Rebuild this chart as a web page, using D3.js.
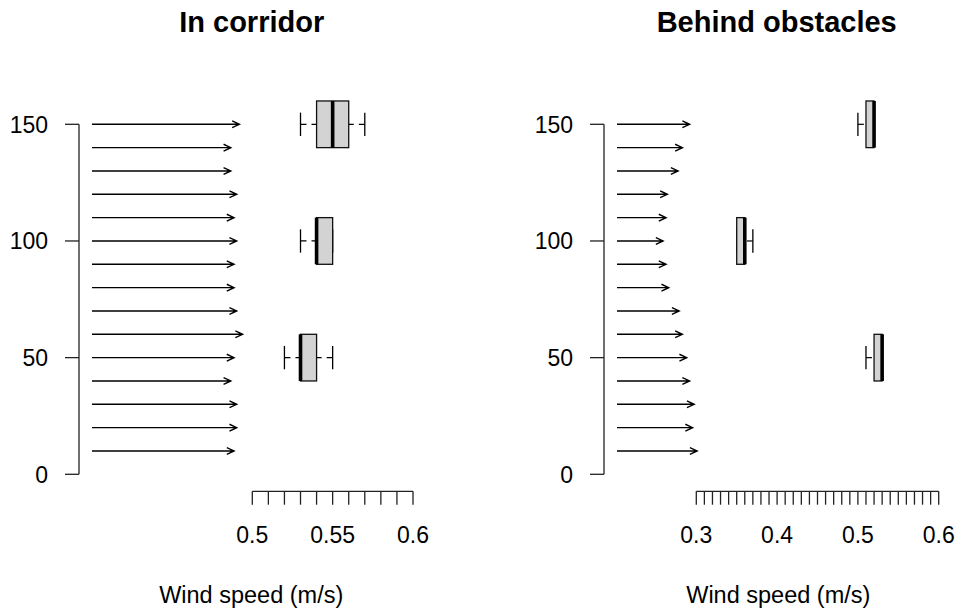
<!DOCTYPE html>
<html>
<head>
<meta charset="utf-8">
<script src="https://cdn.jsdelivr.net/npm/d3@7"></script>
<style>
	body { margin: 0; background: #fff; }
	text { font-family: "Liberation Sans", Arial, sans-serif; fill: #000; }
</style>
</head>
<body>
<svg id="chart" width="956" height="609"></svg>
<script>
// heights of the arrows (m)
const heights = [10, 20, 30, 40, 50, 60, 70, 80, 90, 100, 110, 120, 130, 140, 150]
// arrow speeds per height (m/s)
const corridorArrows = [0.530, 0.540, 0.540, 0.518, 0.530, 0.562, 0.540, 0.530, 0.530, 0.540, 0.530, 0.540, 0.518, 0.518, 0.550]
const obstacleArrows = [0.299, 0.282, 0.288, 0.271, 0.260, 0.244, 0.232, 0.193, 0.183, 0.172, 0.183, 0.188, 0.228, 0.244, 0.271]

// boxplot stats: [min, q1, median, q3, max]
const boxHeights = [50, 100, 150]
const corridorBoxes = [
	[0.52, 0.53, 0.53, 0.54, 0.55],
	[0.53, 0.54, 0.54, 0.55, 0.55],
	[0.53, 0.54, 0.55, 0.56, 0.57]
]
const obstacleBoxes = [
	[0.51, 0.52, 0.53, 0.53, 0.53],
	[0.35, 0.35, 0.36, 0.36, 0.37],
	[0.50, 0.51, 0.52, 0.52, 0.52]
]

const yTicks = [0, 50, 100, 150]
const corridorTicks = d3.range(50, 61).map(d => d / 100)
const corridorLabels = [0.5, 0.55, 0.6]
const obstacleTicks = d3.range(30, 61).map(d => d / 100)
const obstacleLabels = [0.3, 0.4, 0.5, 0.6]

const svg = d3.select("#chart")
const y = d3.scaleLinear().domain([0, 150]).range([474.3, 124.3])
const arrowLen = d3.scaleLinear().domain([0, 1]).range([0, 268])

const panels = [
	{ title: "In corridor", axisX: 79, xRange: [252.3, 413], xDomain: [0.5, 0.6], titleX: 251.7, labelX: 251.2,
		arrows: corridorArrows, boxes: corridorBoxes, ticks: corridorTicks, labels: corridorLabels },
	{ title: "Behind obstacles", axisX: 604, xRange: [696.3, 938.7], xDomain: [0.3, 0.6], titleX: 776.7, labelX: 778.3,
		arrows: obstacleArrows, boxes: obstacleBoxes, ticks: obstacleTicks, labels: obstacleLabels }
]

panels.forEach(p => {
	let g = svg.append("g")
	let x = d3.scaleLinear().domain(p.xDomain).range(p.xRange)

	// y axis
	g.append("line").attr("x1", p.axisX).attr("x2", p.axisX)
		.attr("y1", y(0)).attr("y2", y(150))
		.style("stroke", "#222").style("stroke-width", 1.3)
	yTicks.forEach(t => {
		g.append("line").attr("x1", p.axisX - 14).attr("x2", p.axisX)
			.attr("y1", y(t)).attr("y2", y(t))
			.style("stroke", "#222").style("stroke-width", 1.3)
		g.append("text").attr("x", p.axisX - 31).attr("y", y(t) + 8.5)
			.attr("text-anchor", "end").style("font-size", "23px").text(t)
	})

	// arrows
	let x0 = p.axisX + 13
	heights.forEach((h, i) => {
		let x1 = x0 + arrowLen(p.arrows[i])
		let yy = y(h)
		let a = 25 * Math.PI / 180, L = 8
		g.append("path")
			.attr("d", `M${x0},${yy}L${x1},${yy}M${x1 - L * Math.cos(a)},${yy - L * Math.sin(a)}L${x1},${yy}L${x1 - L * Math.cos(a)},${yy + L * Math.sin(a)}`)
			.style("fill", "none").style("stroke", "#000").style("stroke-width", 1.4)
	})

	// boxplots
	p.boxes.forEach((s, i) => {
		let yc = y(boxHeights[i])
		let hw = y(0) - y(10), cw = y(0) - y(5)
		// whiskers drawn from caps to box
		g.append("line").attr("x1", x(s[0])).attr("x2", x(s[1])).attr("y1", yc).attr("y2", yc)
			.style("stroke", "#000").style("stroke-width", 1.2).style("stroke-dasharray", "6,5")
		g.append("line").attr("x1", x(s[4])).attr("x2", x(s[3])).attr("y1", yc).attr("y2", yc)
			.style("stroke", "#000").style("stroke-width", 1.2).style("stroke-dasharray", "6,5")
		;[s[0], s[4]].forEach(v => {
			g.append("line").attr("x1", x(v)).attr("x2", x(v)).attr("y1", yc - cw).attr("y2", yc + cw)
				.style("stroke", "#000").style("stroke-width", 1.3)
		})
		g.append("rect").attr("x", x(s[1])).attr("y", yc - hw)
			.attr("width", x(s[3]) - x(s[1])).attr("height", 2 * hw)
			.style("fill", "#d3d3d3").style("stroke", "#111").style("stroke-width", 1.3)
		g.append("line").attr("x1", x(s[2])).attr("x2", x(s[2])).attr("y1", yc - hw).attr("y2", yc + hw)
			.style("stroke", "#000").style("stroke-width", 3.6)
	})

	// x axis
	let axisY = 491.3
	g.append("line").attr("x1", x(p.xDomain[0])).attr("x2", x(p.xDomain[1]))
		.attr("y1", axisY).attr("y2", axisY)
		.style("stroke", "#222").style("stroke-width", 1.3)
	p.ticks.forEach(t => {
		g.append("line").attr("x1", x(t)).attr("x2", x(t)).attr("y1", axisY).attr("y2", axisY + 13.4)
			.style("stroke", "#222").style("stroke-width", 1.3)
	})
	p.labels.forEach(t => {
		g.append("text").attr("x", x(t)).attr("y", 542.5).attr("text-anchor", "middle")
			.style("font-size", "23px").text(t)
	})

	// title and x label
	g.append("text").attr("x", p.titleX).attr("y", 32)
		.attr("text-anchor", "middle").style("font-size", "29px").style("font-weight", "bold").text(p.title)
	g.append("text").attr("x", p.labelX).attr("y", 603)
		.attr("text-anchor", "middle").style("font-size", "23.5px").text("Wind speed (m/s)")
})
</script>
</body>
</html>
